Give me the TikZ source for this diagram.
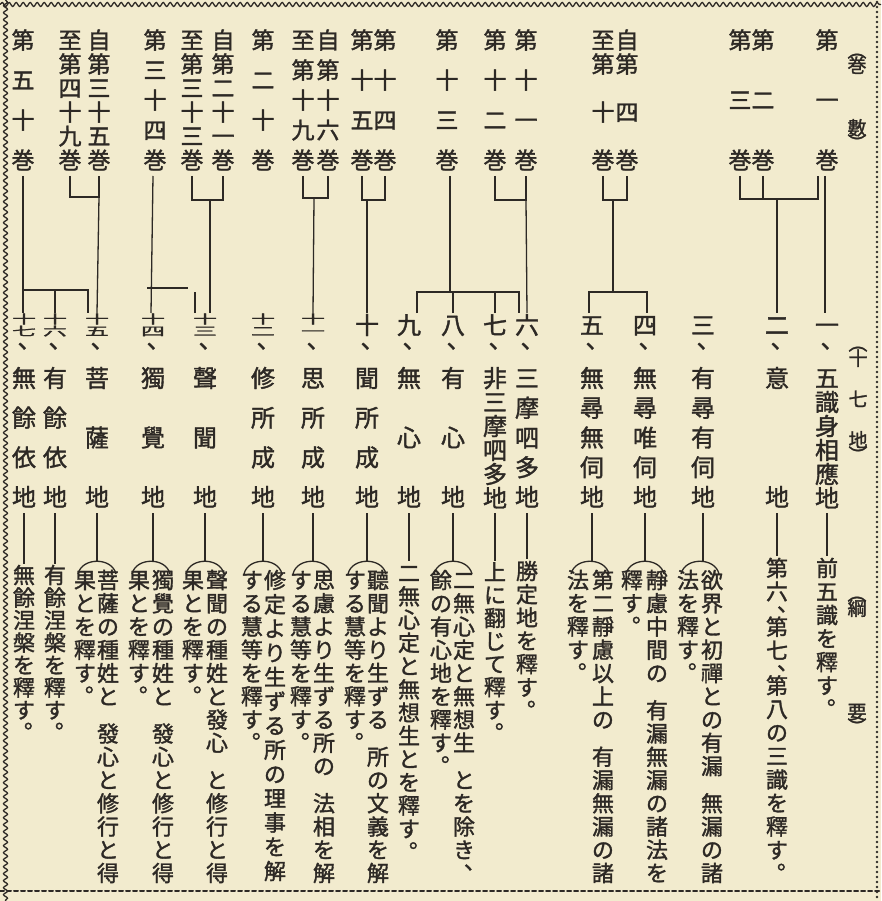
\documentclass[tikz,border=0pt]{standalone}
\usepackage{fontspec}
\usepackage{graphicx}
\usetikzlibrary{decorations.pathmorphing}
\newfontfamily\jp[FakeBold=1.5]{Noto Sans CJK JP}
\definecolor{paper}{RGB}{242,235,206}
\definecolor{ink}{RGB}{45,41,37}
\newdimen\vpitch
\makeatletter
\def\vgapmark{*}
\def\vnofill{!}
\def\vcommamark{、}
\def\vstopmark{。}
\def\vlpar{(}
\def\vrpar{)}
\newcommand\vcel[2]{\vbox to #1{\vfil\hbox to 1em{\hss\smash{#2}\hss}\vfil}}
\newcommand\vglyph{%
  \ifx\vch\vcommamark \vcel{0.5\vpitch}{\raisebox{-0.1em}{\makebox[1em][l]{\hspace{0.5em}、}}}%
  \else\ifx\vch\vstopmark \vcel{\vpitch}{\raisebox{0.2em}{\makebox[1em][l]{\hspace{0.5em}。}}}%
  \else\ifx\vch\vlpar \vcel{0.6\vpitch}{\raisebox{-0.38em}{︵}}%
  \else\ifx\vch\vrpar \vcel{0.6\vpitch}{\raisebox{-0.38em}{︶}}%
  \else \vcel{\vpitch}{\raisebox{-0.38em}{\vch}}%
  \fi\fi\fi\fi}
\newcommand\vfix[1]{\vbox{\offinterlineskip\@tfor\vch:=#1\do{\ifx\vch\vgapmark\kern0.6\vpitch\else\vglyph\fi}}}
\newcommand\vjust[2]{\vbox to #1{\offinterlineskip\let\vjsep\relax
  \@tfor\vch:=#2\do{\ifx\vch\vnofill\let\vjsep\relax\else\vjsep\vglyph\def\vjsep{\vfill}\fi}\kern0pt}}
\makeatother
\newcommand\tnum[2]{\makebox[1em]{\raisebox{0.63em}{\smash{\scalebox{1}[0.5]{\raisebox{-0.38em}{#1}}}}}\llap{\makebox[1em]{\raisebox{0.13em}{\smash{\scalebox{1}[0.5]{\raisebox{-0.38em}{#2}}}}}}}
\newcommand\toplab[1]{\vpitch=24pt\relax\vjust{144pt}{#1}}
\newcommand\namelab[1]{\vpitch=24pt\relax\vjust{143pt}{#1}}
\newcommand\numlab[1]{\vpitch=24pt\relax\vbox{\offinterlineskip\vcel{\vpitch}{\raisebox{-0.38em}{#1}}\vcel{0.8\vpitch}{\raisebox{-0.07em}{\makebox[1em][l]{\hspace{0.23em}、}}}}}
\newcommand\vdesc[2]{\vpitch=#1pt\relax\vfix{#2}}
\newcommand\hdlab[2]{\vpitch=19pt\relax\vjust{#1}{#2}}
\newcommand\arcat[1]{\draw[ln] (#1-19,574) .. controls (#1-15,557) and (#1+15,557) .. (#1+19,574);}
\tikzset{
 ln/.style={draw=ink,line width=1.3pt},
 tl/.style={anchor=north,inner sep=0pt,outer sep=0pt,text=ink,font=\jp\fontsize{23pt}{23pt}\selectfont},
 lb/.style={anchor=north,inner sep=0pt,outer sep=0pt,text=ink,font=\jp\fontsize{24pt}{24pt}\selectfont},
 hd/.style={anchor=north,inner sep=0pt,outer sep=0pt,text=ink,font=\jp\fontsize{19pt}{19pt}\selectfont},
 ds/.style={anchor=north,inner sep=0pt,outer sep=0pt,text=ink,font=\jp\fontsize{22pt}{22pt}\selectfont},
 bord/.style={draw=ink,line width=1.3pt,decorate,decoration={snake,segment length=7pt,amplitude=2pt}},
}
\begin{document}
\begin{tikzpicture}[x=1pt,y=-1pt]
\useasboundingbox (0,0) rectangle (881,901);
\fill[paper] (0,0) rectangle (881,901);
% border
\draw[bord] (0,4.5) -- (881,4.5);
\draw[bord] (5.5,0) -- (5.5,901);
\draw[draw=ink,line width=2.6pt,line cap=round,dash pattern=on 0pt off 5pt] (877,2) -- (877,899);
\draw[draw=ink,line width=2pt,line cap=round,dash pattern=on 4pt off 3pt] (0,891) -- (881,891);
% headers
\node[hd] (hd1) at (857,44.3) {\hdlab{104.4pt}{(!巻數!)}};
\node[hd] (hd2) at (858,337.3) {\hdlab{123.4pt}{(!十七地!)}};
\node[hd] (hd3) at (857,587.3) {\hdlab{145.4pt}{(!綱要!)}};
% top labels (volumes)
\node[tl] (t1) at (827,28) {\toplab{第一巻}};
\node[tl] (t2) at (763,28) {\toplab{第二巻}};
\node[tl] (t3) at (740,28) {\toplab{第三巻}};
\node[tl] (t4) at (627,28) {\toplab{自!第四巻}};
\node[tl] (t10) at (603,28) {\toplab{至!第十巻}};
\node[tl] (t11) at (526,28) {\toplab{第十一巻}};
\node[tl] (t12) at (495,28) {\toplab{第十二巻}};
\node[tl] (t13) at (447,28) {\toplab{第十三巻}};
\node[tl] (t14) at (385,28) {\toplab{第十四巻}};
\node[tl] (t15) at (362,28) {\toplab{第十五巻}};
\node[tl] (t16) at (328,28) {\toplab{自第十六巻}};
\node[tl] (t19) at (303,28) {\toplab{至第十九巻}};
\node[tl] (t20) at (263,28) {\toplab{第二十巻}};
\node[tl] (t21) at (223,28) {\toplab{自第二十一巻}};
\node[tl] (t33) at (192,28) {\toplab{至第三十三巻}};
\node[tl] (t34) at (155,28) {\toplab{第三十四巻}};
\node[tl] (t35) at (99,28) {\toplab{自第三十五巻}};
\node[tl] (t49) at (70,28) {\toplab{至第四十九巻}};
\node[tl] (t50) at (23,28) {\toplab{第五十巻}};
% numerals of the 17 stages
\node[lb] (n1) at (827,313) {\numlab{一}};
\node[lb] (n2) at (777,313) {\numlab{二}};
\node[lb] (n3) at (703,313) {\numlab{三}};
\node[lb] (n4) at (645,313) {\numlab{四}};
\node[lb] (n5) at (592,313) {\numlab{五}};
\node[lb] (n6) at (527,313) {\numlab{六}};
\node[lb] (n7) at (495,313) {\numlab{七}};
\node[lb] (n8) at (453,313) {\numlab{八}};
\node[lb] (n9) at (409,313) {\numlab{九}};
\node[lb] (n10) at (367,313) {\numlab{十}};
\node[lb] (n11) at (313,313) {\numlab{\tnum{十}{一}}};
\node[lb] (n12) at (263,313) {\numlab{\tnum{十}{二}}};
\node[lb] (n13) at (205,313) {\numlab{\tnum{十}{三}}};
\node[lb] (n14) at (153,313) {\numlab{\tnum{十}{四}}};
\node[lb] (n15) at (97,313) {\numlab{\tnum{十}{五}}};
\node[lb] (n16) at (55,313) {\numlab{\tnum{十}{六}}};
\node[lb] (n17) at (24,313) {\numlab{\tnum{十}{七}}};
% names of the 17 stages
\node[lb] (m1) at (827,366) {\namelab{五識身相應地}};
\node[lb] (m2) at (777,366) {\namelab{意地}};
\node[lb] (m3) at (703,366) {\namelab{有尋有伺地}};
\node[lb] (m4) at (645,366) {\namelab{無尋唯伺地}};
\node[lb] (m5) at (592,366) {\namelab{無尋無伺地}};
\node[lb] (m6) at (527,366) {\namelab{三摩呬多地}};
\node[lb] (m7) at (495,366) {\namelab{非三摩呬多地}};
\node[lb] (m8) at (453,366) {\namelab{有心地}};
\node[lb] (m9) at (409,366) {\namelab{無心地}};
\node[lb] (m10) at (367,366) {\namelab{聞所成地}};
\node[lb] (m11) at (313,366) {\namelab{思所成地}};
\node[lb] (m12) at (263,366) {\namelab{修所成地}};
\node[lb] (m13) at (205,366) {\namelab{聲聞地}};
\node[lb] (m14) at (153,366) {\namelab{獨覺地}};
\node[lb] (m15) at (97,366) {\namelab{菩薩地}};
\node[lb] (m16) at (55,366) {\namelab{有餘依地}};
\node[lb] (m17) at (24,366) {\namelab{無餘依地}};
% descriptions
\node[ds] (d1) at (827,556.25) {\vdesc{23.5}{前五識を釋す。}};
\node[ds] (d2) at (777,556.25) {\vdesc{23.5}{第六、第七、第八の三識を釋す。}};
\node[ds] (d3r) at (712,568.4) {\vdesc{23.25}{欲界と初禪との有漏*無漏の諸}};
\node[ds] (d3l) at (688,568.4) {\vdesc{23.25}{法を釋す。}};
\node[ds] (d4r) at (657,568.4) {\vdesc{23.25}{靜慮中間の*有漏無漏の諸法を}};
\node[ds] (d4l) at (632,568.4) {\vdesc{23.25}{釋す。}};
\node[ds] (d5r) at (603,568.4) {\vdesc{23.25}{第二靜慮以上の*有漏無漏の諸}};
\node[ds] (d5l) at (578,568.4) {\vdesc{23.25}{法を釋す。}};
\node[ds] (d6) at (527,559.4) {\vdesc{23.25}{勝定地を釋す。}};
\node[ds] (d7) at (495,560.5) {\vdesc{23}{上に翻じて釋す。}};
\node[ds] (d8r) at (464,568.4) {\vdesc{23.25}{二無心定と無想生*とを除き、}};
\node[ds] (d8l) at (441,568.4) {\vdesc{23.25}{餘の有心地を釋す。}};
\node[ds] (d9) at (409,561.4) {\vdesc{23.25}{二無心定と無想生とを釋す。}};
\node[ds] (d10r) at (378,568.4) {\vdesc{23.25}{聽聞より生ずる*所の文義を解}};
\node[ds] (d10l) at (355,568.4) {\vdesc{23.25}{する慧等を釋す。}};
\node[ds] (d11r) at (324,568.4) {\vdesc{23.25}{思慮より生ずる所の*法相を解}};
\node[ds] (d11l) at (301,568.4) {\vdesc{23.25}{する慧等を釋す。}};
\node[ds] (d12r) at (275,567.9) {\vdesc{24.25}{修定より生ずる所の理事を解}};
\node[ds] (d12l) at (252,568.4) {\vdesc{23.25}{する慧等を釋す。}};
\node[ds] (d13r) at (217,568.4) {\vdesc{23.25}{聲聞の種姓と發心*と修行と得}};
\node[ds] (d13l) at (193,568.4) {\vdesc{23.25}{果とを釋す。}};
\node[ds] (d14r) at (163,568.4) {\vdesc{23.25}{獨覺の種姓と*發心と修行と得}};
\node[ds] (d14l) at (139,568.4) {\vdesc{23.25}{果とを釋す。}};
\node[ds] (d15r) at (108,568.4) {\vdesc{23.25}{菩薩の種姓と*發心と修行と得}};
\node[ds] (d15l) at (85,568.4) {\vdesc{23.25}{果とを釋す。}};
\node[ds] (d16) at (55,563.75) {\vdesc{22.5}{有餘涅槃を釋す。}};
\node[ds] (d17) at (24,563.75) {\vdesc{22.5}{無餘涅槃を釋す。}};
% ---- connectors: volumes to stages
\coordinate (hA) at (777,199);
\draw[ln] ([yshift=-4pt]t3.south) |- (818,199) -- (818,176);
\draw[ln] ([yshift=-4pt]t2.south) -- (t2.south |- hA);
\draw[ln] (hA) -- (n2.north);
\draw[ln] ([xshift=-2pt,yshift=-4pt]t1.south) -- ([xshift=-2pt]n1.north);
\coordinate (hB) at (613,200);
\draw[ln] ([yshift=-4pt]t10.south) |- (hB) -| ([yshift=-4pt]t4.south);
\draw[ln] (hB) -- ++(0,92) coordinate (hB2);
\draw[ln] ([xshift=-3pt]n5.north) |- (hB2) -| ([xshift=2pt]n4.north);
\coordinate (hC) at (526,200);
\draw[ln] ([yshift=-4pt]t12.south) |- (hC) -- ([yshift=-4pt]t11.south);
\draw[ln] (hC) -- (n6.north);
\draw[ln] ([xshift=3pt,yshift=-4pt]t13.south) -- ++(0,116) coordinate (hD);
\draw[ln] ([xshift=8pt]n9.north) |- (hD) -- (519,292) -- (519,313);
\draw[ln] (n8.north) -- (n8.north |- hD);
\draw[ln] (n7.north) -- (n7.north |- hD);
\coordinate (hE) at (367,200);
\draw[ln] ([yshift=-4pt]t15.south) |- (hE) -| ([yshift=-4pt]t14.south);
\draw[ln] (hE) -- (n10.north);
\coordinate (hF) at (314,198);
\draw[ln] ([yshift=-4pt]t19.south) |- (hF) -| ([yshift=-4pt]t16.south);
\draw[ln] (hF) -- (n11.north);
\coordinate (hG) at (210,200);
\draw[ln] ([yshift=-4pt]t33.south) |- (hG) -| ([yshift=-4pt]t21.south);
\draw[ln] (hG) -- ([xshift=5pt]n13.north);
\draw[ln] ([xshift=-2pt,yshift=-4pt]t34.south) -- ([xshift=-2pt]n14.north);
\draw[ln] (147,288) -- (188,288);
\draw[ln] ([xshift=-10pt]n13.north) -- ++(0,-21);
\coordinate (hI) at (99,197);
\draw[ln] ([yshift=-4pt]t49.south) |- (hI) -- ([yshift=-4pt]t35.south);
\draw[ln] (hI) -- (n15.north);
\draw[ln] ([yshift=-4pt]t50.south) -- (t50.south |- n17.north);
\coordinate (hJ) at (23,290);
\draw[ln] (hJ) -- (88,290) -- ([xshift=-9pt]n15.north);
\draw[ln] (n16.north) -- (n16.north |- hJ);
% ---- connectors: stages to descriptions
\coordinate (arcY) at (0,561);
\foreach \k in {1,2,6,7,9,16,17}{\draw[ln] ([yshift=-4pt]m\k.south) -- (d\k.north);}
\foreach \k in {3,4,5,8,10,11,12,13,14,15}{\draw[ln] ([yshift=-4pt]m\k.south) -- (m\k.south |- arcY);}
\arcat{700}\arcat{645}\arcat{590}\arcat{453}\arcat{367}\arcat{312}\arcat{263}\arcat{205}\arcat{151}\arcat{97}
\end{tikzpicture}
\end{document}
